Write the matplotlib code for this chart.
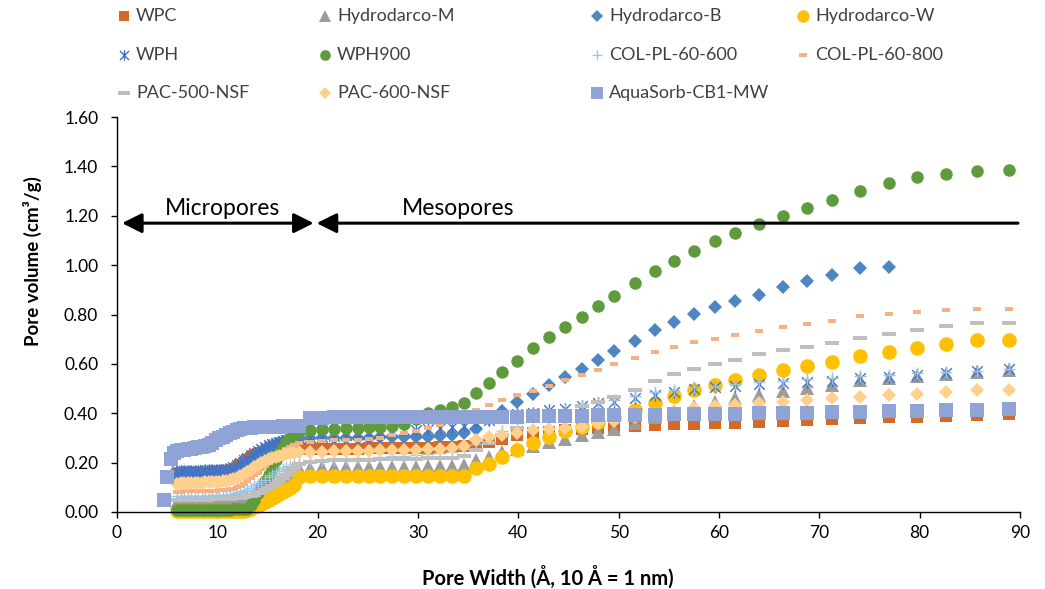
import matplotlib
matplotlib.use("Agg")
import matplotlib.pyplot as plt
import numpy as np
from matplotlib.path import Path
from matplotlib.lines import Line2D

plt.rcParams['font.family'] = ['Lato', 'DejaVu Sans']

# Pore width grid (Angstrom) shared by all isotherm-derived distributions
pore_width = [
    4.7, 5.0, 5.35, 5.7, 6.0, 6.35, 6.7, 7.05, 7.4, 7.75, 8.1, 8.45, 8.8, 9.15,
    9.5, 9.85, 10.2, 10.55, 10.9, 11.25, 11.6, 11.95, 12.3, 12.65, 13.0, 13.35,
    13.7, 14.05, 14.4, 14.75, 15.1, 15.45, 15.8, 16.15, 16.5, 16.85, 17.2, 17.6,
    18.1, 19.2, 20.4, 21.6, 22.8, 24.0, 25.1, 26.2, 27.4, 28.6, 29.8, 31.0, 32.2,
    33.4, 34.6,
    35.8, 37.1, 38.4, 39.9, 41.5, 43.1, 44.7, 46.3, 47.9, 49.5, 51.6, 53.6, 55.5,
    57.5, 59.6, 61.6, 64.0, 66.4, 68.8, 71.3, 74.1, 76.9, 79.7, 82.6, 85.7, 88.9,
]

N = None
# Cumulative pore volume (cm3/g) for each carbon
wpc = [N, N, N, N,
       0.155, 0.156, 0.157, 0.157, 0.158, 0.158, 0.159, 0.159, 0.160, 0.160, 0.160, 0.161, 0.162, 0.163, 0.165, 0.168, 0.172,
       0.180, 0.190, 0.200, 0.210, 0.220, 0.228, 0.235, 0.240, 0.244, 0.247, 0.249, 0.250, 0.251, 0.252, 0.253, 0.253, 0.254,
       0.255, 0.255, 0.256, 0.256, 0.257, 0.257, 0.258, 0.258, 0.259, 0.260, 0.260, 0.261, 0.262, 0.264, 0.267,
       0.275, 0.285, 0.297, 0.310, 0.318, 0.326, 0.333, 0.338, 0.342, 0.345, 0.348, 0.351, 0.355, 0.358, 0.360, 0.362,
       0.365, 0.369, 0.372, 0.375, 0.379, 0.383, 0.386, 0.389, 0.392, 0.396]
hydrodarco_m = [N, N, N, N,
       0.040, 0.040, 0.041, 0.041, 0.041, 0.042, 0.042, 0.042, 0.043, 0.043, 0.043, 0.044, 0.044, 0.045, 0.046, 0.047, 0.049,
       0.050, 0.051, 0.053, 0.055, 0.058, 0.062, 0.067, 0.073, 0.080, 0.088, 0.097, 0.107, 0.118, 0.130, 0.142, 0.155, 0.167,
       0.178, 0.180, 0.181, 0.181, 0.182, 0.182, 0.183, 0.183, 0.183, 0.184, 0.184, 0.185, 0.185, 0.186, 0.190,
       0.210, 0.224, 0.244, 0.256, 0.268, 0.282, 0.294, 0.310, 0.324, 0.338, 0.360, 0.385, 0.408, 0.428, 0.446, 0.460,
       0.473, 0.490, 0.504, 0.514, 0.534, 0.541, 0.550, 0.558, 0.567, 0.574]
hydrodarco_b = [N, N, N, N,
       0.150, 0.150, 0.151, 0.151, 0.152, 0.152, 0.153, 0.153, 0.154, 0.154, 0.155, 0.156, 0.157, 0.158, 0.160, 0.163, 0.167,
       0.173, 0.181, 0.190, 0.200, 0.211, 0.222, 0.233, 0.244, 0.254, 0.262, 0.269, 0.275, 0.280, 0.285, 0.289, 0.292, 0.295,
       0.297, 0.298, 0.299, 0.300, 0.300, 0.301, 0.301, 0.302, 0.302, 0.303, 0.304, 0.305, 0.307, 0.310, 0.320,
       0.338, 0.375, 0.410, 0.446, 0.480, 0.514, 0.547, 0.581, 0.615, 0.651, 0.691, 0.736, 0.770, 0.803, 0.830, 0.854,
       0.881, 0.911, 0.934, 0.958, 0.988, 0.992, N, N, N, N]
hydrodarco_w = [N, N, N, N,
       0.003, 0.003, 0.003, 0.003, 0.003, 0.003, 0.003, 0.003, 0.003, 0.003, 0.003, 0.003, 0.003, 0.003, 0.003, 0.003, 0.003,
       0.003, 0.003, 0.005, 0.008, 0.013, 0.019, 0.026, 0.033, 0.041, 0.049, 0.057, 0.065, 0.073, 0.081, 0.089, 0.097, 0.110,
       0.143, 0.145, 0.146, 0.146, 0.146, 0.146, 0.146, 0.146, 0.146, 0.146, 0.146, 0.146, 0.146, 0.146, 0.147,
       0.177, 0.193, 0.221, 0.250, 0.279, 0.305, 0.329, 0.345, 0.365, 0.383, 0.412, 0.442, 0.469, 0.496, 0.514, 0.534,
       0.554, 0.574, 0.590, 0.608, 0.631, 0.648, 0.666, 0.682, 0.696, 0.697]
wph = [N, N, N, N,
       0.165, 0.166, 0.166, 0.167, 0.167, 0.168, 0.168, 0.168, 0.169, 0.169, 0.170, 0.170, 0.171, 0.172, 0.173, 0.176, 0.182,
       0.190, 0.200, 0.210, 0.220, 0.230, 0.240, 0.249, 0.257, 0.264, 0.270, 0.276, 0.281, 0.285, 0.289, 0.292, 0.295, 0.297,
       0.300, 0.302, 0.305, 0.308, 0.311, 0.315, 0.319, 0.323, 0.327, 0.331, 0.334, 0.337, 0.340, 0.344, 0.350,
       0.360, 0.372, 0.385, 0.395, 0.400, 0.412, 0.419, 0.429, 0.440, 0.445, 0.460, 0.473, 0.486, 0.498, 0.507, 0.512,
       0.518, 0.522, 0.526, 0.531, 0.541, 0.547, 0.554, 0.563, 0.571, 0.578]
wph900 = [N, N, N, N,
       0.010, 0.010, 0.010, 0.010, 0.010, 0.010, 0.010, 0.010, 0.010, 0.010, 0.010, 0.010, 0.010, 0.010, 0.010, 0.010, 0.011,
       0.011, 0.011, 0.012, 0.014, 0.030, 0.050, 0.075, 0.100, 0.125, 0.150, 0.180, 0.210, 0.240, 0.265, 0.285, 0.300, 0.313,
       0.325, 0.332, 0.336, 0.338, 0.340, 0.342, 0.344, 0.346, 0.350, 0.358, 0.375, 0.399, 0.412, 0.426, 0.443,
       0.481, 0.521, 0.566, 0.611, 0.663, 0.710, 0.748, 0.791, 0.834, 0.876, 0.926, 0.976, 1.016, 1.057, 1.097, 1.129,
       1.167, 1.201, 1.230, 1.264, 1.302, 1.333, 1.356, 1.369, 1.383, 1.386]
col_pl_60_600 = [N, N, N, N,
       0.063, 0.063, 0.064, 0.064, 0.064, 0.065, 0.065, 0.065, 0.066, 0.066, 0.066, 0.067, 0.067, 0.068, 0.069, 0.070, 0.072,
       0.075, 0.079, 0.084, 0.090, 0.097, 0.105, 0.113, 0.122, 0.131, 0.140, 0.149, 0.158, 0.167, 0.175, 0.182, 0.188, 0.194,
       0.200, 0.205, 0.210, 0.212, 0.215, 0.218, 0.220, 0.222, 0.225, 0.228, 0.230, 0.233, 0.237, 0.243, 0.255,
       0.275, 0.300, 0.330, 0.360, 0.385, 0.400, 0.415, 0.428, 0.440, 0.455, 0.470, 0.485, 0.495, 0.505, 0.512, 0.518,
       0.525, 0.532, 0.538, 0.544, 0.550, 0.556, 0.562, 0.567, 0.572, 0.578]
col_pl_60_800 = [N, N, N, N,
       0.083, 0.083, 0.084, 0.084, 0.085, 0.085, 0.085, 0.086, 0.086, 0.086, 0.087, 0.087, 0.088, 0.089, 0.090, 0.092, 0.095,
       0.100, 0.107, 0.115, 0.125, 0.136, 0.148, 0.160, 0.173, 0.186, 0.198, 0.210, 0.222, 0.233, 0.244, 0.254, 0.263, 0.272,
       0.280, 0.285, 0.288, 0.290, 0.291, 0.293, 0.295, 0.300, 0.310, 0.320, 0.330, 0.340, 0.352, 0.365, 0.390,
       0.412, 0.435, 0.453, 0.473, 0.490, 0.512, 0.534, 0.555, 0.577, 0.601, 0.625, 0.650, 0.668, 0.687, 0.702, 0.718,
       0.735, 0.749, 0.761, 0.775, 0.793, 0.803, 0.812, 0.817, 0.821, 0.822]
pac_500_nsf = [N, N, N, N,
       0.048, 0.048, 0.049, 0.049, 0.049, 0.050, 0.050, 0.050, 0.050, 0.051, 0.051, 0.051, 0.052, 0.052, 0.053, 0.054, 0.055,
       0.056, 0.058, 0.060, 0.063, 0.066, 0.070, 0.075, 0.081, 0.088, 0.096, 0.105, 0.115, 0.126, 0.138, 0.151, 0.165, 0.180,
       0.195, 0.203, 0.207, 0.209, 0.210, 0.211, 0.212, 0.213, 0.214, 0.215, 0.216, 0.217, 0.218, 0.220, 0.225,
       0.250, 0.280, 0.310, 0.340, 0.370, 0.390, 0.410, 0.429, 0.446, 0.464, 0.496, 0.530, 0.557, 0.581, 0.601, 0.617,
       0.638, 0.655, 0.668, 0.686, 0.706, 0.722, 0.739, 0.753, 0.766, 0.766]
pac_600_nsf = [N, N, N, N,
       0.115, 0.116, 0.117, 0.117, 0.118, 0.118, 0.119, 0.119, 0.120, 0.120, 0.121, 0.122, 0.123, 0.124, 0.126, 0.129, 0.133,
       0.139, 0.146, 0.154, 0.163, 0.172, 0.181, 0.190, 0.198, 0.206, 0.213, 0.219, 0.224, 0.228, 0.232, 0.235, 0.238, 0.240,
       0.242, 0.244, 0.245, 0.246, 0.247, 0.248, 0.249, 0.250, 0.251, 0.252, 0.253, 0.254, 0.256, 0.259, 0.268,
       0.290, 0.305, 0.312, 0.322, 0.332, 0.338, 0.341, 0.345, 0.359, 0.370, 0.385, 0.398, 0.410, 0.420, 0.428, 0.434,
       0.440, 0.446, 0.453, 0.460, 0.466, 0.473, 0.480, 0.486, 0.493, 0.496]
aquasorb_cb1_mw = [
       0.050, 0.140, 0.215, 0.240,
       0.247, 0.250, 0.252, 0.255, 0.257, 0.260, 0.262, 0.265, 0.268, 0.271, 0.278, 0.290, 0.298, 0.304, 0.310, 0.318, 0.326,
       0.333, 0.338, 0.341, 0.342, 0.342, 0.343, 0.343, 0.344, 0.344, 0.345, 0.345, 0.346, 0.346, 0.347, 0.347, 0.348, 0.348,
       0.350, 0.380, 0.382, 0.383, 0.384, 0.384, 0.385, 0.385, 0.385, 0.386, 0.386, 0.386, 0.386, 0.386, 0.386,
       0.386, 0.386, 0.386, 0.386, 0.387, 0.388, 0.389, 0.390, 0.391, 0.392, 0.393, 0.394, 0.395, 0.396, 0.397, 0.398,
       0.399, 0.401, 0.403, 0.405, 0.407, 0.409, 0.411, 0.413, 0.414, 0.416]

series_names = ["WPC", "Hydrodarco-M", "Hydrodarco-B", "Hydrodarco-W",
                "WPH", "WPH900", "COL-PL-60-600", "COL-PL-60-800",
                "PAC-500-NSF", "PAC-600-NSF", "AquaSorb-CB1-MW"]
series_values = [wpc, hydrodarco_m, hydrodarco_b, hydrodarco_w, wph, wph900,
                 col_pl_60_600, col_pl_60_800, pac_500_nsf, pac_600_nsf,
                 aquasorb_cb1_mw]

# Custom marker shapes
asterisk = Path([(0, -1), (0, 1), (-0.85, -0.85), (0.85, 0.85), (-0.85, 0.85), (0.85, -0.85)],
                [Path.MOVETO, Path.LINETO, Path.MOVETO, Path.LINETO, Path.MOVETO, Path.LINETO])
short_bar = Path([(-1, -0.5), (1, -0.5), (1, 0.5), (-1, 0.5), (-1, -0.5)],
                 [Path.MOVETO, Path.LINETO, Path.LINETO, Path.LINETO, Path.CLOSEPOLY])
long_bar = Path([(-1, -0.3), (1, -0.3), (1, 0.3), (-1, 0.3), (-1, -0.3)],
                [Path.MOVETO, Path.LINETO, Path.LINETO, Path.LINETO, Path.CLOSEPOLY])

styles = [
    dict(marker='s', ms=8.5, color='#D4692A', mew=0),
    dict(marker='^', ms=9.5, color='#9C9C9C', mew=0),
    dict(marker='D', ms=7.5, color='#4E86C1', mew=0),
    dict(marker='o', ms=10.5, color='#FFC000', mew=0),
    dict(marker=asterisk, ms=9, color='#4472C4', mew=1.0, mfc='none'),
    dict(marker='o', ms=9, color='#5F9A3C', mew=0),
    dict(marker='+', ms=9, color='#9DC3E6', mew=1.0),
    dict(marker=short_bar, ms=6, color='#F4B183', mew=0),
    dict(marker=long_bar, ms=9.5, color='#BFBFBF', mew=0),
    dict(marker='D', ms=7.5, color='#FFD08C', mew=0),
    dict(marker='s', ms=9.5, color='#8FA3D6', mew=0),
]

W, H = 1045, 589
fig = plt.figure(figsize=(W / 100, H / 100), dpi=100)
ax = fig.add_axes([117 / W, 77 / H, (1020 - 117) / W, (512 - 117) / H])

x = np.array(pore_width, dtype=float)
for name, vals, st in zip(series_names, series_values, styles):
    y = np.array([np.nan if v is None else v for v in vals], dtype=float)
    ax.plot(x, y, linestyle='none', marker=st['marker'], markersize=st['ms'],
            color=st['color'], markeredgecolor=st['color'],
            markerfacecolor=st.get('mfc', st['color']),
            markeredgewidth=st['mew'], label=name, clip_on=False)

ax.set_xlim(0, 90)
ax.set_ylim(0, 1.6)
ax.set_xticks(np.arange(0, 91, 10))
ax.set_yticks(np.arange(0, 1.61, 0.2))
ax.yaxis.set_major_formatter(matplotlib.ticker.FormatStrFormatter('%.2f'))
for side in ('top', 'right'):
    ax.spines[side].set_visible(False)
for side in ('left', 'bottom'):
    ax.spines[side].set_color('black')
    ax.spines[side].set_linewidth(1.0)
ax.tick_params(axis='both', direction='out', length=4.5, width=1.0,
               labelsize=12.5, colors='black')
ax.tick_params(axis='y', pad=9)
ax.tick_params(axis='x', pad=5)

ax.set_xlabel('Pore Width (Å, 10 Å = 1 nm)', fontsize=14.5, fontweight='bold')
ax.set_ylabel('Pore volume (cm³/g)', fontsize=13.5, fontweight='bold')
ax.xaxis.set_label_coords(0.477, -0.135)
ax.yaxis.set_label_coords(-0.083, 0.635)

# Micropore / mesopore ranges
ax.annotate('', xy=(0.5, 1.17), xytext=(19.6, 1.17),
            arrowprops=dict(arrowstyle='<|-|>,head_length=0.6,head_width=0.3',
                            lw=2.2, color='black', shrinkA=0, shrinkB=0,
                            mutation_scale=20))
ax.annotate('', xy=(19.9, 1.17), xytext=(89.8, 1.17),
            arrowprops=dict(arrowstyle='-|>,head_length=0.6,head_width=0.3',
                            lw=2.2, color='black', shrinkA=0, shrinkB=0,
                            mutation_scale=20))
ax.text(10.5, 1.185, 'Micropores', ha='center', va='bottom', fontsize=16.5)
ax.text(34.0, 1.185, 'Mesopores', ha='center', va='bottom', fontsize=16.5)

# Legend laid out in a 4-column grid above the plot
col_x = [124, 325, 597, 803]
row_y = [16, 55, 93]
for i, (name, st) in enumerate(zip(series_names, styles)):
    r, c = divmod(i, 4)
    mx = col_x[c] / W
    my = 1 - row_y[r] / H
    fig.add_artist(Line2D([mx], [my], transform=fig.transFigure, linestyle='none',
                          marker=st['marker'], markersize=st['ms'] * 0.85,
                          color=st['color'], markeredgecolor=st['color'],
                          markerfacecolor=st.get('mfc', st['color']),
                          markeredgewidth=st['mew']))
    fig.text(mx + 12 / W, my, name, ha='left', va='center', fontsize=13, color='#404040')

fig.savefig('out.png', dpi=100)
